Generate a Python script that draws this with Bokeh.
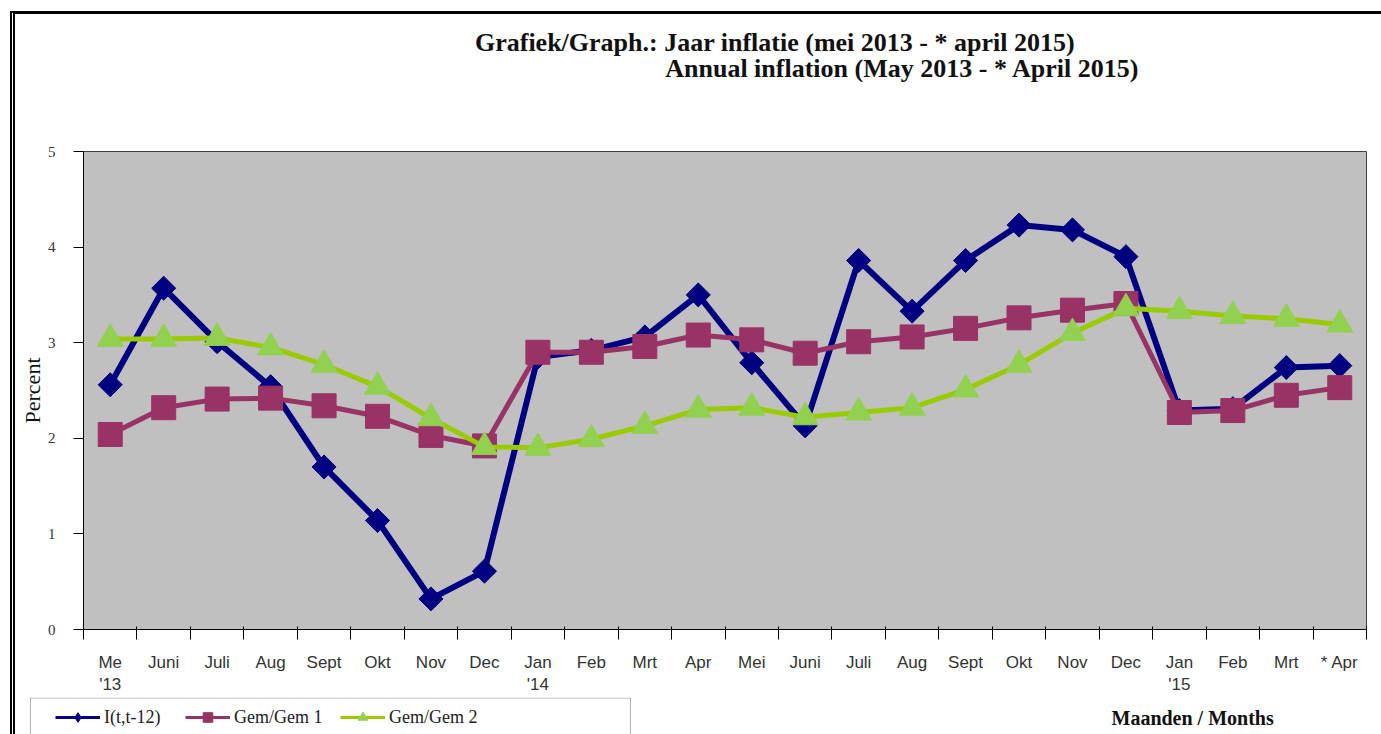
from bokeh.plotting import figure
from bokeh.models import (Range1d, FixedTicker, Legend, LegendItem, ColumnDataSource,
                          Label, BoxAnnotation)
from bokeh.layouts import column
from bokeh.embed import file_html
from bokeh.resources import INLINE
import numpy as np

# ---- data -------------------------------------------------------------
months = ["Me", "Juni", "Juli", "Aug", "Sept", "Okt", "Nov", "Dec",
          "Jan", "Feb", "Mrt", "Apr", "Mei", "Juni", "Juli", "Aug",
          "Sept", "Okt", "Nov", "Dec", "Jan", "Feb", "Mrt", "* Apr"]
year_marks = {0: "'13", 8: "'14", 20: "'15"}

infl = [2.56, 3.57, 3.01, 2.54, 1.70, 1.14, 0.32, 0.61, 2.85, 2.92, 3.06, 3.50,
        2.79, 2.13, 3.86, 3.33, 3.86, 4.23, 4.18, 3.90, 2.29, 2.31, 2.74, 2.76]
gem1 = [2.04, 2.32, 2.41, 2.42, 2.34, 2.23, 2.03, 1.92, 2.90, 2.90, 2.96, 3.08,
        3.03, 2.89, 3.01, 3.06, 3.15, 3.26, 3.34, 3.41, 2.27, 2.29, 2.45, 2.53]
gem2 = [3.04, 3.04, 3.05, 2.95, 2.77, 2.54, 2.21, 1.91, 1.90, 1.99, 2.13, 2.30,
        2.32, 2.22, 2.27, 2.32, 2.51, 2.77, 3.10, 3.36, 3.33, 3.28, 3.25, 3.19]
series_names = ["I(t,t-12)", "Gem/Gem 1", "Gem/Gem 2"]
series_cols = ["infl", "gem1", "gem2"]
y_ticks = [0, 1, 2, 3, 4, 5]

title1 = "Grafiek/Graph.: Jaar inflatie  (mei 2013 -  * april 2015)"
title2 = "Annual inflation (May 2013 - * April 2015)"
x_title = "Maanden / Months"

NAVY = "#000080"
PURPLE = "#993366"
GREEN = "#99CC00"
GREEN_M = "#92D050"
STYLES = [dict(color=NAVY, lw=6, marker="square", angle=np.pi / 4, size=17, leg_marker="diamond"),
          dict(color=PURPLE, lw=5, marker="square", angle=0, size=24, leg_marker="square"),
          dict(color=GREEN, lw=5, marker="triangle", angle=0, size=26, leg_marker="triangle")]
MARKER_FILL = [NAVY, PURPLE, GREEN_M]

W = 1366
x = list(range(len(months)))
tick_labels = [m + ("\n" + year_marks[i] if i in year_marks else "") for i, m in enumerate(months)]
src = ColumnDataSource(dict(x=x, infl=infl, gem1=gem1, gem2=gem2))


def no_align(f):
    if "frame_align" in f.properties():
        f.frame_align = False
    return f


def blank(height):
    f = figure(frame_width=W, frame_height=height, output_backend="svg",
               toolbar_location=None, x_axis_type=None, y_axis_type=None,
               x_range=Range1d(0, 1), y_range=Range1d(0, 1), min_border=0,
               outline_line_color=None, border_fill_color="white",
               background_fill_color="white")
    f.title.visible = False
    return no_align(f)


# ---- header with the two title lines ----------------------------------
head = blank(86)
for txt, cx, cy in [(title1, 766, 58), (title2, 887, 32)]:
    head.add_layout(Label(x=cx, y=cy, x_units="screen", y_units="screen", text=txt,
                          text_align="center", text_baseline="middle",
                          text_font="Liberation Serif", text_font_style="bold",
                          text_font_size="26px", text_color="#111111"))

# ---- main chart --------------------------------------------------------
p = figure(width=W, height=597, output_backend="svg", toolbar_location=None,
           x_range=Range1d(-0.5, len(months) - 0.5), y_range=Range1d(0, 5),
           min_border_left=68, min_border_right=15, min_border_top=51,
           min_border_bottom=66, background_fill_color="#C0C0C0",
           border_fill_color="white", outline_line_color="#404040")
p.title.visible = False
p.grid.visible = False
no_align(p)

xa = p.xaxis[0]
xa.ticker = FixedTicker(ticks=x, minor_ticks=[i - 0.5 for i in range(len(months) + 1)])
xa.major_label_overrides = {i: t for i, t in enumerate(tick_labels)}
xa.major_tick_out = 0
xa.major_tick_in = 0
xa.minor_tick_out = 10
xa.minor_tick_in = 3
xa.minor_tick_line_color = "black"
xa.axis_line_color = "black"
xa.major_label_text_font = "Liberation Sans"
xa.major_label_text_font_size = "17px"
xa.major_label_text_color = "#333333"
xa.major_label_standoff = 13

ya = p.yaxis[0]
ya.ticker = FixedTicker(ticks=y_ticks)
ya.major_tick_out = 10
ya.major_tick_in = 0
ya.minor_tick_line_color = None
ya.axis_line_color = "black"
ya.major_tick_line_color = "black"
ya.major_label_text_font = "Liberation Serif"
ya.major_label_text_font_size = "15px"
ya.major_label_text_color = "#333333"
ya.major_label_standoff = 18
ya.axis_label = "Percent"
ya.axis_label_text_font = "Liberation Serif"
ya.axis_label_text_font_style = "normal"
ya.axis_label_text_font_size = "22px"
ya.axis_label_text_color = "#111111"
ya.axis_label_standoff = 0

for col_name, st, mf in zip(series_cols, STYLES, MARKER_FILL):
    p.line("x", col_name, source=src, line_color=st["color"], line_width=st["lw"])
    p.scatter("x", col_name, source=src, marker=st["marker"], angle=st["angle"],
              size=st["size"], fill_color=mf, line_color=mf)

# ---- footer: legend box + x title ---------------------------------------
foot = blank(37)
# the footer's y range lies far outside the data, so its series renderers only
# supply the legend glyphs
foot.y_range = Range1d(100, 101)
foot.add_layout(BoxAnnotation(left=15, right=615, top=36.5, bottom=-20,
                              left_units="screen", right_units="screen",
                              top_units="screen", bottom_units="screen",
                              fill_alpha=0, line_color="black", line_width=1))
for name, col_name, st, mf, lx in zip(series_names, series_cols, STYLES, MARKER_FILL,
                                      [40, 170, 325]):
    rl = foot.line("x", col_name, source=src, line_color=st["color"], line_width=3)
    rm = foot.scatter("x", col_name, source=src, marker=st["leg_marker"],
                      fill_color=mf, line_color=mf)
    leg = Legend(items=[LegendItem(label=name, renderers=[rl, rm])], location=(lx, 5),
                 border_line_color=None, background_fill_alpha=0, padding=0, margin=0,
                 glyph_width=45, glyph_height=24, label_height=24, label_standoff=4,
                 label_text_font="Liberation Serif", label_text_font_size="18px",
                 label_text_color="#222222")
    foot.add_layout(leg, "center")
foot.add_layout(Label(x=1096, y=17, x_units="screen", y_units="screen", text=x_title,
                      text_align="left", text_baseline="middle",
                      text_font="Liberation Serif", text_font_style="bold",
                      text_font_size="20px", text_color="#111111"))

page = column(head, p, foot, spacing=0)
page.margin = (11, 0, 0, 10)
page.styles = {"border-left": "5px double black", "border-top": "3px solid black"}

open("out.html", "w").write(file_html(page, INLINE))
